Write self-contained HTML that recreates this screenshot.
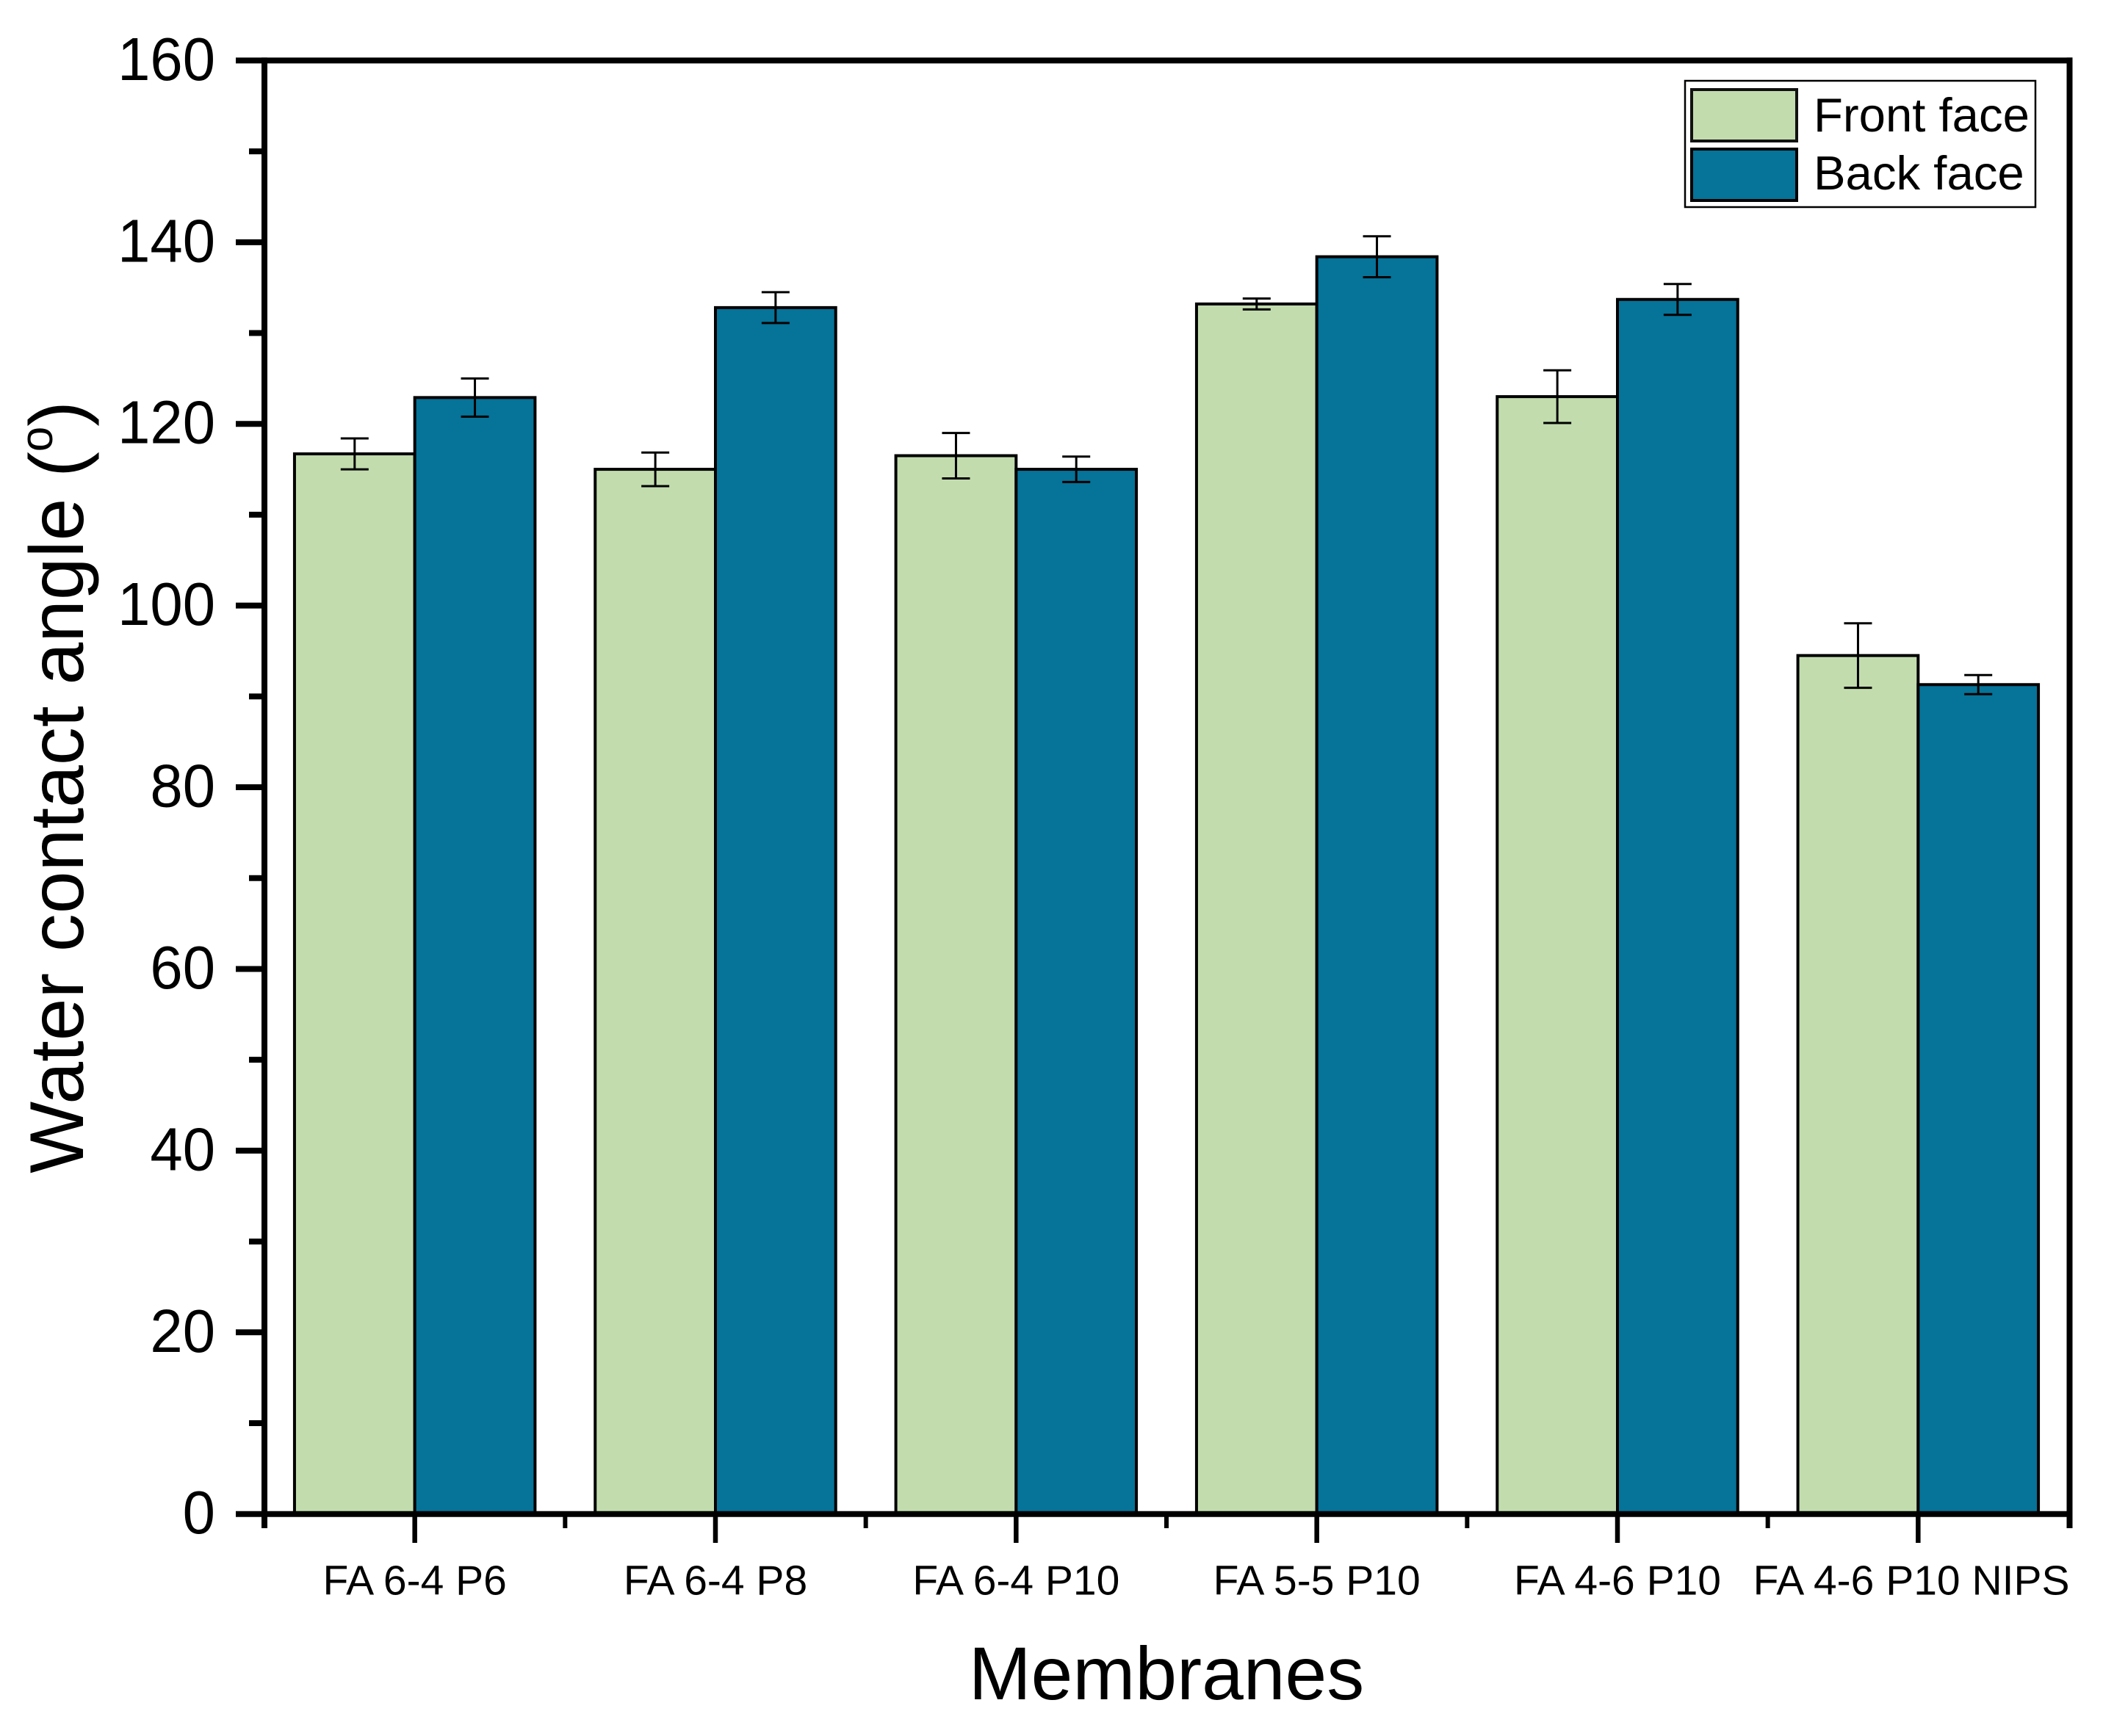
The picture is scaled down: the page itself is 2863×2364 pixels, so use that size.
<!DOCTYPE html>
<html lang="en">
<head>
<meta charset="utf-8">
<title>Water contact angle of membranes</title>
<style>
html,body{margin:0;padding:0;background:#fff;}
svg{display:block;font-family:"Liberation Sans",Arial,sans-serif;}
</style>
</head>
<body>
<svg id="chart" xmlns="http://www.w3.org/2000/svg" width="2863" height="2364" viewBox="0 0 2863 2364">
  <rect x="0" y="0" width="2863" height="2364" fill="#ffffff"/>
  <g id="bars"></g>
  <g id="errors"></g>
  <g id="axes"></g>
  <g id="ticklabels"></g>
  <text transform="translate(113,1072) rotate(-90)" text-anchor="middle" font-size="103.8" fill="#000">Water contact angle (<tspan font-size="62" dy="-42">o</tspan><tspan dy="42">)</tspan></text>
  <text x="1588" y="2314" text-anchor="middle" font-size="102" fill="#000">Membranes</text>
  <g>
    <rect x="2294" y="110" width="477" height="172" fill="#fff" stroke="#000" stroke-width="2.5"/>
    <rect x="2303" y="122" width="143" height="70" fill="#C2DCAE" stroke="#111" stroke-width="4"/>
    <rect x="2303" y="203" width="143" height="70" fill="#067399" stroke="#000" stroke-width="4"/>
    <text x="2469" y="179" font-size="65.3" fill="#000">Front face</text>
    <text x="2469" y="258" font-size="65.3" fill="#000">Back face</text>
  </g>
</svg>
<script>
const categories = ['FA 6-4 P6', 'FA 6-4 P8', 'FA 6-4 P10', 'FA 5-5 P10', 'FA 4-6 P10', 'FA 4-6 P10 NIPS'];
const frontFace = [116.7, 115.0, 116.5, 133.2, 123.0, 94.5];
const backFace = [122.9, 132.8, 115.0, 138.4, 133.7, 91.3];
const frontError = [1.7, 1.85, 2.5, 0.6, 2.9, 3.55];
const backError = [2.1, 1.7, 1.4, 2.25, 1.7, 1.05];
const yTicks = [0, 20, 40, 60, 80, 100, 120, 140, 160];
const yMinorTicks = [10, 30, 50, 70, 90, 110, 130, 150];

const NS = 'http://www.w3.org/2000/svg';
const plotLeft = 360, plotRight = 2816, frameRight = 2817.5, plotTop = 82.4, plotBottom = 2061.7;
const yMax = yTicks[yTicks.length - 1];
const barFraction = 0.4;

function xScale(c) {
  return plotLeft + (c + 0.5) / categories.length * (plotRight - plotLeft);
}
function yScale(v) {
  return plotBottom - v / yMax * (plotBottom - plotTop);
}
function make(tag, attrs, parent) {
  const el = document.createElementNS(NS, tag);
  for (const k in attrs) el.setAttribute(k, attrs[k]);
  parent.appendChild(el);
  return el;
}
const step = (plotRight - plotLeft) / categories.length;
const barsG = document.getElementById('bars');
const errorsG = document.getElementById('errors');
const axesG = document.getElementById('axes');
const labelsG = document.getElementById('ticklabels');

function drawBar(i, value, side, fill) {
  const w = step * barFraction;
  const x = side === 'front' ? xScale(i) - w : xScale(i);
  const el = make('rect', {x: x, y: yScale(value), width: w, height: plotBottom - yScale(value), fill: fill, stroke: '#000', 'stroke-width': 4}, barsG);
  
  
}
function drawError(i, value, err, side) {
  const w = step * barFraction;
  const cx = side === 'front' ? xScale(i) - w / 2 : xScale(i) + w / 2;
  const hi = yScale(value + err), lo = yScale(value - err);
  const g = make('path', {d: 'M' + (cx - 19) + ' ' + hi + 'H' + (cx + 19) + 'M' + cx + ' ' + hi + 'V' + lo + 'M' + (cx - 19) + ' ' + lo + 'H' + (cx + 19), fill: 'none', stroke: '#000', 'stroke-width': 3}, errorsG);
  
  
}
categories.forEach(function (c, i) {
  drawBar(i, frontFace[i], 'front', '#C2DCAE');
  drawBar(i, backFace[i], 'back', '#067399');
});
categories.forEach(function (c, i) {
  drawError(i, frontFace[i], frontError[i], 'front');
  drawError(i, backFace[i], backError[i], 'back');
});

function line(x1, y1, x2, y2, w, name) {
  const el = make('line', {x1: x1, y1: y1, x2: x2, y2: y2, stroke: '#000', 'stroke-width': w}, axesG);
  
  
  return el;
}
const minorEnd = 2081, majorEnd = 2101, tickLeft = 321, minorLeft = 339;
line(plotLeft, plotTop - 4, plotLeft, minorEnd, 8, 'y-axis-line');
line(frameRight, plotTop - 4, frameRight, minorEnd, 8, 'right-axis-line');
line(plotLeft, plotTop, frameRight + 4, plotTop, 8, 'top-axis-line');
line(plotLeft, plotBottom, frameRight + 4, plotBottom, 8, 'x-axis-line');

yTicks.forEach(function (t) {
  line(tickLeft, yScale(t), plotLeft, yScale(t), 8, 'y-tick-' + t);
  const el = make('text', {transform: 'translate(293,' + (yScale(t) + 26.5) + ') scale(0.96,1)', 'text-anchor': 'end', 'font-size': 83, fill: '#000'}, labelsG);
  
  
  el.textContent = String(t);
});
yMinorTicks.forEach(function (t) {
  line(minorLeft, yScale(t), plotLeft, yScale(t), 8, 'y-minor-tick-' + t);
});
categories.forEach(function (c, i) {
  const x = xScale(i);
  line(x, plotBottom, x, majorEnd, 6.5, 'x-tick-' + (i + 1));
  if (i > 0) line(x - step / 2, plotBottom, x - step / 2, minorEnd, 6, 'x-minor-tick-' + i);
  const el = make('text', {x: x, y: 2171.5, 'text-anchor': 'middle', 'font-size': 57, fill: '#000'}, labelsG);
  
  
  el.textContent = c;
  const box = el.getBBox();
  if (box.x + box.width > frameRight) {
    el.setAttribute('text-anchor', 'end');
    el.setAttribute('x', frameRight);
  }
});
</script>
</body>
</html>
